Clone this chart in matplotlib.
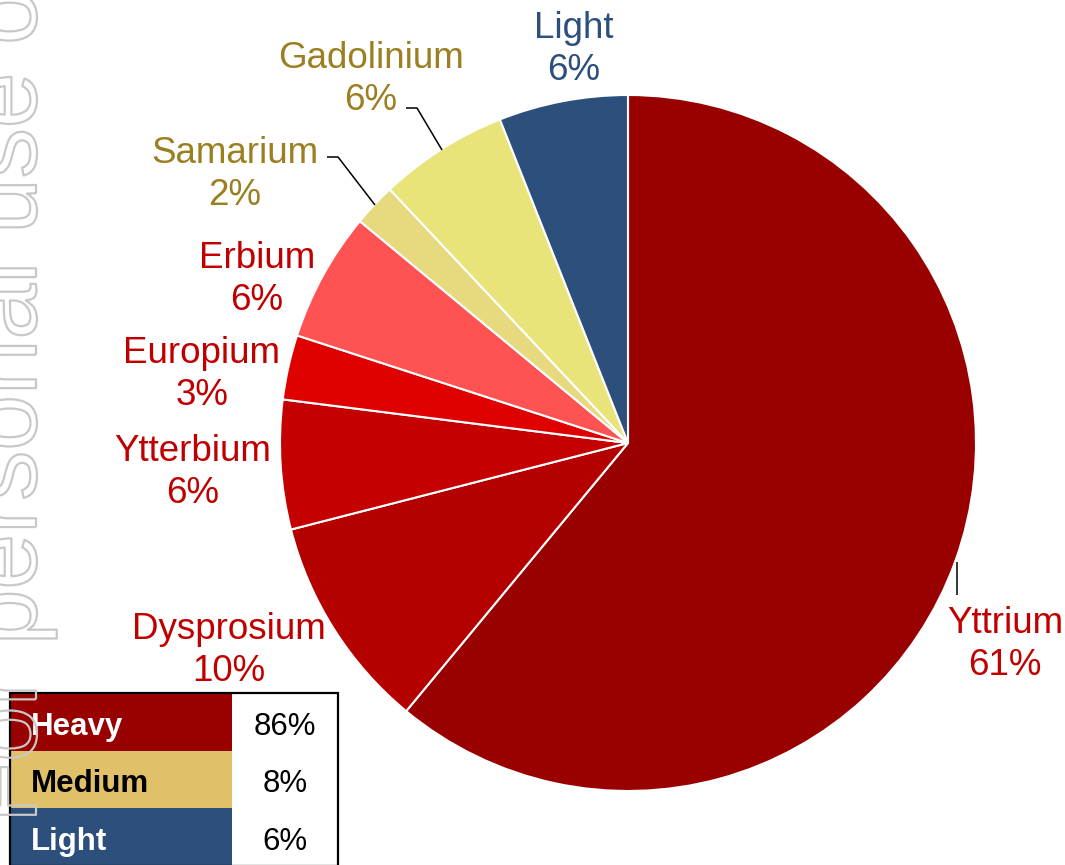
"""Rare earth oxide composition pie with heavy/medium/light summary table."""

import matplotlib

matplotlib.use("Agg")
import matplotlib.pyplot as plt
from matplotlib import patheffects
from matplotlib.patches import Rectangle

plt.rcParams["font.family"] = ["Liberation Sans", "DejaVu Sans"]

W, H = 1065, 865

# pie data, clockwise from 12 o'clock
elements = ["Yttrium", "Dysprosium", "Ytterbium", "Europium", "Erbium", "Samarium", "Gadolinium", "Light"]
shares = [61, 10, 6, 3, 6, 2, 6, 6]
wedge_colors = ["#990000", "#B50000", "#C40000", "#DF0000", "#FF5252", "#E6D97E", "#E8E47A", "#2C4F7C"]
label_colors = ["#C00000", "#C00000", "#C00000", "#C00000", "#C00000", "#9B7F21", "#9B7F21", "#2C4F7C"]

# summary table
groups = ["Heavy", "Medium", "Light"]
group_shares = [86, 8, 6]
group_colors = ["#990000", "#E0C068", "#2C4F7C"]
group_text = ["white", "black", "white"]

# label anchors in pixels from top-left: (centre x, baseline of name)
label_pos = {
    "Yttrium": (1005, 633),
    "Dysprosium": (229, 639),
    "Ytterbium": (193, 461),
    "Europium": (202, 363),
    "Erbium": (257, 268),
    "Samarium": (235, 163),
    "Gadolinium": (371, 68),
    "Light": (574, 38),
}
leaders = {
    "Gadolinium": [(406, 108), (417, 108), (442, 150)],
    "Samarium": [(327, 157), (338, 157), (375, 205)],
    "Yttrium": [(957, 562), (957, 595)],
}


def fy(y):
    return H - y


fig = plt.figure(figsize=(W / 100, H / 100), dpi=100)
ax = fig.add_axes([0, 0, 1, 1])

ax.pie(
    shares,
    colors=wedge_colors,
    startangle=90,
    counterclock=False,
    center=(628, fy(443)),
    radius=348,
    wedgeprops=dict(edgecolor="white", linewidth=1.5),
)
ax.set_xlim(0, W)
ax.set_ylim(0, H)
ax.axis("off")

for name, pct, col in zip(elements, shares, label_colors):
    x, y = label_pos[name]
    ax.text(x, fy(y), name, color=col, fontsize=26.5, ha="center", va="baseline")
    ax.text(x, fy(y + 42), f"{pct}%", color=col, fontsize=26.5, ha="center", va="baseline")

for pts in leaders.values():
    ax.plot([p[0] for p in pts], [fy(p[1]) for p in pts], color="black", linewidth=1.1,
            solid_capstyle="butt")

# table in the lower-left corner
row_h = 57.5
top = 693
for i, (g, s) in enumerate(zip(groups, group_shares)):
    y0 = top + i * row_h
    ax.add_patch(Rectangle((10, fy(y0 + row_h)), 222, row_h, facecolor=group_colors[i],
                           edgecolor="none", zorder=3))
    ax.add_patch(Rectangle((232, fy(y0 + row_h)), 106, row_h, facecolor="white",
                           edgecolor="none", zorder=3))
    ax.text(31, fy(y0 + 42), g, color=group_text[i], fontsize=22.5, fontweight="bold",
            ha="left", va="baseline", zorder=4)
    ax.text(285, fy(y0 + 42), f"{s}%", color="black", fontsize=22.5,
            ha="center", va="baseline", zorder=4)
ax.add_patch(Rectangle((10, fy(top + 3 * row_h)), 328, 3 * row_h, facecolor="none",
                       edgecolor="black", linewidth=1.6, zorder=5))

# faint outlined watermark up the left edge
ax.text(36, fy(823), "For personal use only", rotation=90, rotation_mode="anchor",
        ha="left", va="baseline", fontsize=72, color="none", zorder=6,
        path_effects=[patheffects.Stroke(linewidth=1.6, foreground="#C8C8C8")])

fig.savefig("out.png", dpi=100)
